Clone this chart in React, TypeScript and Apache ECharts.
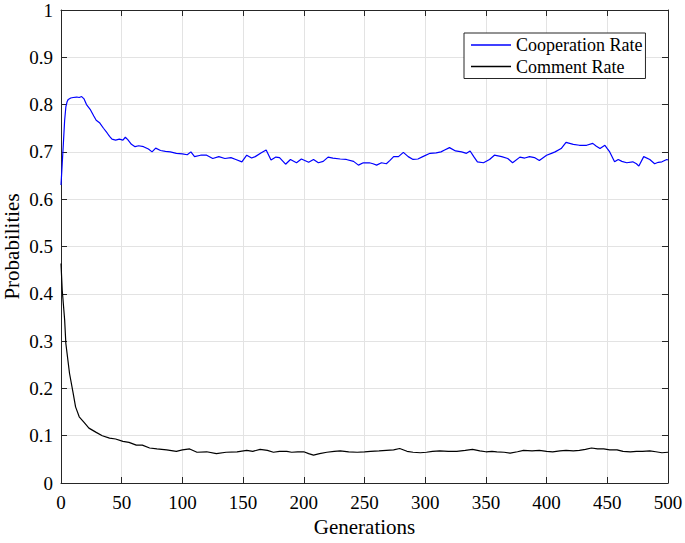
import React, { useEffect, useRef } from "react";
import * as echarts from "echarts";

const xTicks = [0, 50, 100, 150, 200, 250, 300, 350, 400, 450, 500];
const yTicks = [0, 0.1, 0.2, 0.3, 0.4, 0.5, 0.6, 0.7, 0.8, 0.9, 1];
const seriesNames = ["Cooperation Rate", "Comment Rate"];

const coopGen = [
  0, 1, 2, 3, 4, 5, 6, 8, 10, 13, 15, 17, 19, 21, 24, 27, 29, 32, 35, 38, 40, 42, 45, 48, 51, 53,
  55, 58, 61, 64, 68, 72, 75, 78, 82, 86, 90, 95, 100, 104, 107, 110, 115, 120, 125, 130, 135,
  140, 144, 149, 153, 157, 160, 165, 169, 173, 177, 180, 185, 189, 194, 198, 204, 208, 212, 216,
  220, 224, 230, 235, 241, 245, 249, 254, 257, 260, 264, 268, 271, 274, 278, 282, 286, 290, 294,
  298, 304, 309, 313, 316, 320, 325, 330, 334, 337, 340, 343, 348, 353, 357, 363, 368, 372, 378,
  382, 386, 390, 394, 400, 404, 407, 412, 416, 422, 427, 433, 438, 441, 444, 448, 452, 456, 459,
  462, 466, 471, 474, 476, 480, 485, 489, 492, 495, 499, 500,
];
const coopVal = [
  0.63, 0.675, 0.72, 0.767, 0.795, 0.806, 0.811, 0.814, 0.815, 0.816, 0.815, 0.817, 0.812,
  0.8, 0.79, 0.776, 0.767, 0.761, 0.75, 0.74, 0.733, 0.727, 0.725, 0.727, 0.725, 0.731, 0.726,
  0.716, 0.711, 0.713, 0.711, 0.706, 0.7, 0.708, 0.703, 0.701, 0.7, 0.697, 0.696, 0.694, 0.7,
  0.69, 0.693, 0.693, 0.686, 0.69, 0.686, 0.688, 0.684, 0.679, 0.693, 0.687, 0.69, 0.698, 0.704,
  0.683, 0.689, 0.688, 0.674, 0.684, 0.677, 0.685, 0.678, 0.684, 0.677, 0.68, 0.689, 0.687,
  0.685, 0.684, 0.68, 0.672, 0.677, 0.677, 0.675, 0.672, 0.677, 0.675, 0.682, 0.69, 0.69, 0.699,
  0.69, 0.684, 0.685, 0.69, 0.697, 0.698, 0.7, 0.704, 0.709, 0.702, 0.7, 0.697, 0.702, 0.69,
  0.679, 0.677, 0.684, 0.693, 0.69, 0.686, 0.677, 0.689, 0.687, 0.69, 0.688, 0.682, 0.693, 0.697,
  0.7, 0.707, 0.72, 0.716, 0.714, 0.714, 0.718, 0.712, 0.707, 0.714, 0.7, 0.679, 0.684, 0.68,
  0.677, 0.679, 0.675, 0.67, 0.69, 0.684, 0.675, 0.678, 0.679, 0.684, 0.683,
];

const commentGen = [
  0, 1, 3, 4, 7, 10, 12, 15, 19, 23, 29, 34, 40, 45, 51, 56, 62, 67, 73, 79, 87, 95, 100, 106,
  112, 120, 128, 136, 145, 153, 158, 164, 170, 175, 180, 186, 190, 195, 200, 204, 208, 213, 219,
  225, 230, 237, 244, 250, 255, 262, 268, 274, 279, 285, 290, 296, 301, 306, 312, 319, 326, 333,
  339, 345, 350, 355, 359, 365, 370, 376, 381, 388, 394, 400, 405, 411, 416, 422, 427, 432, 437,
  442, 447, 452, 458, 463, 469, 474, 479, 485, 490, 495, 500,
];
const commentVal = [
  0.464, 0.408, 0.345, 0.295, 0.232, 0.19, 0.161, 0.14, 0.128, 0.116, 0.107, 0.1, 0.095, 0.093,
  0.088, 0.086, 0.08, 0.08, 0.074, 0.072, 0.07, 0.067, 0.07, 0.072, 0.065, 0.066, 0.062, 0.065,
  0.066, 0.069, 0.067, 0.071, 0.069, 0.065, 0.067, 0.067, 0.065, 0.066, 0.066, 0.062, 0.059,
  0.062, 0.065, 0.067, 0.068, 0.066, 0.065, 0.066, 0.067, 0.068, 0.069, 0.07, 0.073, 0.067,
  0.065, 0.064, 0.065, 0.067, 0.068, 0.067, 0.067, 0.069, 0.071, 0.068, 0.066, 0.067, 0.066,
  0.065, 0.063, 0.066, 0.069, 0.068, 0.069, 0.067, 0.066, 0.068, 0.069, 0.068, 0.069, 0.071,
  0.074, 0.072, 0.072, 0.07, 0.07, 0.067, 0.066, 0.067, 0.067, 0.068, 0.066, 0.064, 0.065,
];

const FONT = "Liberation Serif";
const AXIS_COLOR = "#262626";

export default function App() {
  const ref = useRef<HTMLDivElement>(null);

  useEffect(() => {
    if (!ref.current) return;
    const chart = echarts.init(ref.current, undefined, { renderer: "svg" });
    const coopData = coopGen.map((g, i) => [g, coopVal[i]]);
    const commentData = commentGen.map((g, i) => [g, commentVal[i]]);

    const baseX = {
      type: "value" as const,
      min: xTicks[0],
      max: xTicks[xTicks.length - 1],
      interval: xTicks[1] - xTicks[0],
    };
    const baseY = {
      type: "value" as const,
      min: yTicks[0],
      max: yTicks[yTicks.length - 1],
      interval: 0.1,
    };
    const labelStyle = { fontFamily: FONT, fontSize: 19, color: "#000" };

    chart.setOption({
      animation: false,
      backgroundColor: "#ffffff",
      textStyle: { fontFamily: FONT },
      grid: {
        left: 61,
        right: 17,
        top: 10,
        bottom: 60,
        containLabel: false,
        outerBoundsMode: "none",
      },
      legend: {
        orient: "vertical",
        left: 464,
        top: 33,
        data: seriesNames,
        icon: "rect",
        itemWidth: 40,
        itemHeight: 1.3,
        itemGap: 3.5,
        padding: [3, 3, 3, 7],
        borderColor: AXIS_COLOR,
        borderWidth: 1,
        backgroundColor: "#ffffff",
        textStyle: { fontFamily: FONT, fontSize: 18, color: "#000" },
      },
      xAxis: [
        {
          ...baseX,
          position: "bottom",
          name: "Generations",
          nameLocation: "middle",
          nameGap: 33,
          nameMoveOverlap: false,
          nameTextStyle: { fontFamily: FONT, fontSize: 21, color: "#000" },
          axisLine: { show: true, lineStyle: { color: AXIS_COLOR, width: 1 } },
          axisTick: { show: true, inside: true, length: 6, lineStyle: { color: AXIS_COLOR } },
          axisLabel: { ...labelStyle, margin: 10 },
          splitLine: { show: true, lineStyle: { color: "#e3e3e3", width: 1 } },
        },
        {
          ...baseX,
          position: "top",
          axisLine: { show: true, onZero: false, lineStyle: { color: AXIS_COLOR, width: 1 } },
          axisTick: { show: true, inside: true, length: 6, lineStyle: { color: AXIS_COLOR } },
          axisLabel: { show: false },
          splitLine: { show: false },
        },
      ],
      yAxis: [
        {
          ...baseY,
          position: "left",
          name: "Probabilities",
          nameLocation: "middle",
          nameGap: 38,
          nameMoveOverlap: false,
          nameTextStyle: { fontFamily: FONT, fontSize: 21, color: "#000", lineHeight: 22 },
          axisLine: { show: true, lineStyle: { color: AXIS_COLOR, width: 1 } },
          axisTick: { show: true, inside: true, length: 6, lineStyle: { color: AXIS_COLOR } },
          axisLabel: {
            ...labelStyle,
            margin: 8,
            formatter: (v: number) => String(Math.round(v * 10) / 10),
          },
          splitLine: { show: true, lineStyle: { color: "#e3e3e3", width: 1 } },
        },
        {
          ...baseY,
          position: "right",
          axisLine: { show: true, onZero: false, lineStyle: { color: AXIS_COLOR, width: 1 } },
          axisTick: { show: true, inside: true, length: 6, lineStyle: { color: AXIS_COLOR } },
          axisLabel: { show: false },
          splitLine: { show: false },
        },
      ],
      series: [
        {
          name: seriesNames[0],
          type: "line",
          data: coopData,
          showSymbol: false,
          symbol: "none",
          lineStyle: { color: "#0000ff", width: 1.2 },
          itemStyle: { color: "#0000ff" },
          z: 3,
        },
        {
          name: seriesNames[1],
          type: "line",
          data: commentData,
          showSymbol: false,
          symbol: "none",
          lineStyle: { color: "#000000", width: 1.2 },
          itemStyle: { color: "#000000" },
          z: 3,
        },
      ],
    });
    return () => chart.dispose();
  }, []);

  return (
    <div
      ref={ref}
      style={{ position: "absolute", left: 0, top: 0, width: 685, height: 543 }}
    />
  );
}
